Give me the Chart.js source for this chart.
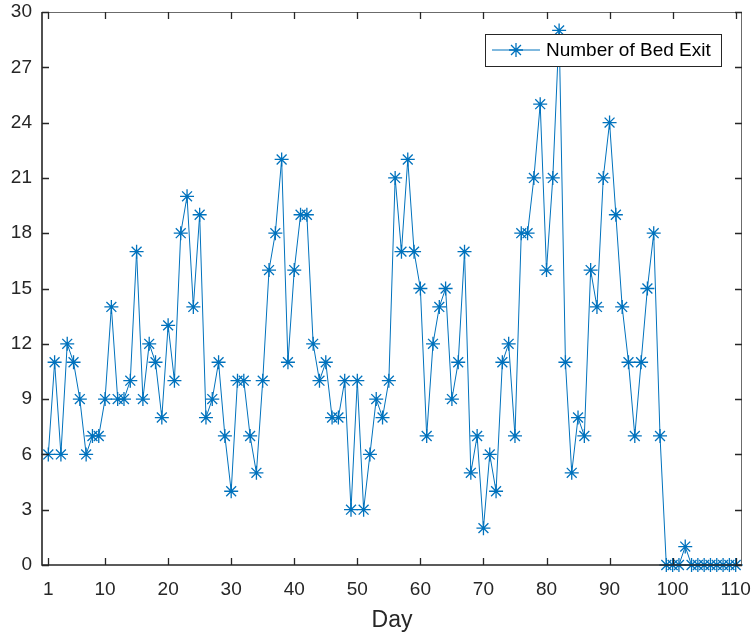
<!DOCTYPE html>
<html>
<head>
<meta charset="utf-8">
<script src="https://cdn.jsdelivr.net/npm/chart.js@4.4.0/dist/chart.umd.min.js"></script>
<style>
  html, body { margin: 0; padding: 0; background: #ffffff; }
  #wrap { width: 754px; height: 638px; }
</style>
</head>
<body>
<div id="wrap"><canvas id="c" width="754" height="638"></canvas></div>
<script>
// Daily count of bed exits, days 1..110
const days = Array.from({ length: 110 }, (_, i) => i + 1);
const bedExits = [
  6, 11, 6, 12, 11, 9, 6, 7, 7, 9,
  14, 9, 9, 10, 17, 9, 12, 11, 8, 13,
  10, 18, 20, 14, 19, 8, 9, 11, 7, 4,
  10, 10, 7, 5, 10, 16, 18, 22, 11, 16,
  19, 19, 12, 10, 11, 8, 8, 10, 3, 10,
  3, 6, 9, 8, 10, 21, 17, 22, 17, 15,
  7, 12, 14, 15, 9, 11, 17, 5, 7, 2,
  6, 4, 11, 12, 7, 18, 18, 21, 25, 16,
  21, 29, 11, 5, 8, 7, 16, 14, 21, 24,
  19, 14, 11, 7, 11, 15, 18, 7, 0, 0,
  0, 1, 0, 0, 0, 0, 0, 0, 0, 0
];
const xTicks = [1, 10, 20, 30, 40, 50, 60, 70, 80, 90, 100, 110];
const yTicks = [0, 3, 6, 9, 12, 15, 18, 21, 24, 27, 30];
const seriesName = 'Number of Bed Exit';
const axisTitle = 'Day';

const BLUE = '#0072BD';
const AXIS = '#262626';
const FONT = '"Liberation Sans", Arial, sans-serif';

function drawAsterisk(ctx, x, y, r) {
  const d = r * Math.SQRT1_2;
  ctx.beginPath();
  ctx.moveTo(x - r, y); ctx.lineTo(x + r, y);
  ctx.moveTo(x, y - r); ctx.lineTo(x, y + r);
  ctx.moveTo(x - d, y - d); ctx.lineTo(x + d, y + d);
  ctx.moveTo(x - d, y + d); ctx.lineTo(x + d, y - d);
  ctx.stroke();
}

// Box around the plot with inward tick marks on all four sides
const axesBox = {
  id: 'axesBox',
  afterDatasetsDraw(chart) {
    const { ctx, chartArea: a, scales } = chart;
    const tl = 7;
    ctx.save();
    ctx.strokeStyle = '#6b6b6b';
    ctx.lineWidth = 1;
    ctx.beginPath();
    ctx.moveTo(a.left, a.top + 0.5); ctx.lineTo(a.right, a.top + 0.5);
    ctx.moveTo(a.right - 0.5, a.top); ctx.lineTo(a.right - 0.5, a.bottom);
    ctx.stroke();
    ctx.strokeStyle = AXIS;
    ctx.lineWidth = 1.6;
    ctx.beginPath();
    ctx.moveTo(a.left, a.top); ctx.lineTo(a.left, a.bottom);
    ctx.lineTo(a.right, a.bottom);
    ctx.stroke();
    ctx.lineWidth = 1.3;
    ctx.beginPath();
    xTicks.forEach(v => {
      const px = Math.round(scales.x.getPixelForValue(v)) + 0.5;
      ctx.moveTo(px, a.bottom); ctx.lineTo(px, a.bottom - tl);
      ctx.moveTo(px, a.top); ctx.lineTo(px, a.top + tl);
    });
    yTicks.forEach(v => {
      const py = Math.round(scales.y.getPixelForValue(v)) + 0.5;
      ctx.moveTo(a.left, py); ctx.lineTo(a.left + tl, py);
      ctx.moveTo(a.right, py); ctx.lineTo(a.right - tl, py);
    });
    ctx.stroke();

    // Legend box in the upper right
    const lx = 485, ly = 34, lw = 236, lh = 32;
    ctx.fillStyle = '#ffffff';
    ctx.fillRect(lx, ly, lw, lh);
    ctx.strokeStyle = AXIS;
    ctx.lineWidth = 1;
    ctx.strokeRect(lx + 0.5, ly + 0.5, lw, lh);
    const cy = ly + lh / 2;
    ctx.strokeStyle = BLUE;
    ctx.lineWidth = 1;
    ctx.beginPath();
    ctx.moveTo(lx + 7, cy); ctx.lineTo(lx + 55, cy);
    ctx.stroke();
    ctx.lineWidth = 1.3;
    drawAsterisk(ctx, lx + 31, cy, 7);
    ctx.fillStyle = '#000000';
    ctx.font = '19px ' + FONT;
    ctx.textAlign = 'left';
    ctx.textBaseline = 'middle';
    ctx.fillText(chart.data.datasets[0].label, lx + 61, cy + 1);
    ctx.restore();
  }
};

new Chart(document.getElementById('c'), {
  type: 'line',
  data: {
    datasets: [{
      label: seriesName,
      data: days.map((d, i) => ({ x: d, y: bedExits[i] })),
      borderColor: BLUE,
      borderWidth: 1,
      backgroundColor: BLUE,
      pointStyle: 'star',
      pointRadius: 7,
      pointHoverRadius: 7,
      pointBorderColor: BLUE,
      pointBorderWidth: 1.3,
      tension: 0,
      clip: false
    }]
  },
  options: {
    responsive: false,
    devicePixelRatio: 1,
    animation: false,
    events: [],
    layout: { padding: { top: 12, right: 12, left: 0, bottom: 0 } },
    plugins: {
      legend: { display: false },
      tooltip: { enabled: false }
    },
    scales: {
      x: {
        type: 'linear',
        min: 0,
        max: 111,
        afterBuildTicks(scale) { scale.ticks = xTicks.map(v => ({ value: v })); },
        afterFit(scale) {
          scale.height = 73;
          scale.paddingLeft = 0;
          scale.paddingRight = 0;
        },
        grid: { display: false, drawTicks: false },
        border: { display: false },
        ticks: {
          color: AXIS,
          font: { family: FONT, size: 19 },
          padding: 13,
          maxRotation: 0,
          autoSkip: false
        },
        title: {
          display: true,
          text: axisTitle,
          color: AXIS,
          font: { family: FONT, size: 23 },
          padding: { top: 0, bottom: 4 }
        }
      },
      y: {
        min: 0,
        max: 30,
        afterBuildTicks(scale) { scale.ticks = yTicks.map(v => ({ value: v })); },
        afterFit(scale) {
          scale.width = 42;
          scale.paddingTop = 0;
          scale.paddingBottom = 0;
        },
        grid: { display: false, drawTicks: false },
        border: { display: false },
        ticks: {
          color: AXIS,
          font: { family: FONT, size: 19 },
          padding: 10,
          autoSkip: false
        }
      }
    }
  },
  plugins: [axesBox]
});
</script>
</body>
</html>
